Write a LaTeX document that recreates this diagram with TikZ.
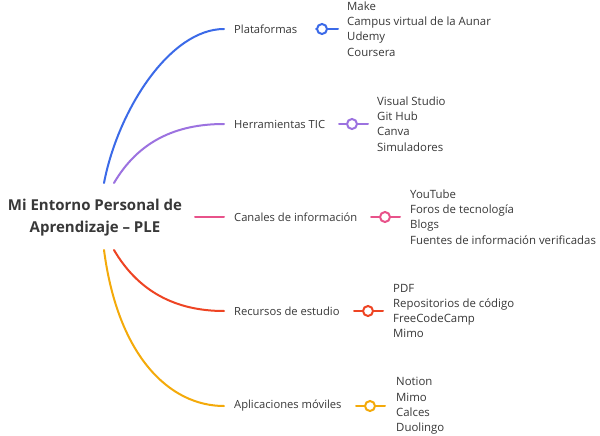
\documentclass[tikz,border=0pt]{standalone}
\usepackage{fontspec}
\setmainfont{Open Sans}
\definecolor{txt}{HTML}{383838}
\definecolor{cblue}{HTML}{3B6AE8}
\definecolor{cpurple}{HTML}{9C72E0}
\definecolor{cpink}{HTML}{E8528A}
\definecolor{cred}{HTML}{EE4423}
\definecolor{cyellow}{HTML}{F4AA0A}
\begin{document}
\begin{tikzpicture}[x=1pt,y=-1pt,
  branch/.style={line width=2pt,line cap=round},
  lbl/.style={anchor=west,inner sep=0pt,text=txt,font=\fontsize{11.2}{13}\selectfont},
  item/.style={anchor=west,inner sep=0pt,text=txt,font=\fontsize{11.4}{15.3}\selectfont,align=left},
  knob/.style={circle,line width=2pt,fill=white,minimum size=10pt,inner sep=0pt},
  root/.style={text=txt,font=\bfseries\fontsize{15}{22}\selectfont,align=center,inner sep=0pt}]
\useasboundingbox (0,0) rectangle (600,436);
\fill[white] (0,0) rectangle (600,436);
\node[root] (R) at (95,218) {Mi Entorno Personal de\\Aprendizaje – PLE};
% branch anchors
\coordinate (s1) at (104,183);
\coordinate (s2) at (114,183);
\coordinate (s3) at (195,217);
\coordinate (s4) at (114,250);
\coordinate (s5) at (104,250);
% labels
\node[lbl] (L1) at (234,29) {Plataformas};
\node[lbl] (L2) at (234,124) {Herramientas TIC};
\node[lbl] (L3) at (234,217) {Canales de información};
\node[lbl] (L4) at (234,311) {Recursos de estudio};
\node[lbl] (L5) at (234,406) {Aplicaciones móviles};
% curves
\draw[branch,cblue] (s1) .. controls (118,110) and (170,29) .. ([xshift=-10pt]L1.west);
\draw[branch,cpurple] (s2) .. controls (138,142) and (175,124) .. ([xshift=-10pt]L2.west);
\draw[branch,cpink] (s3) -- ([xshift=-10pt]L3.west);
\draw[branch,cred] (s4) .. controls (138,291) and (175,311) .. ([xshift=-10pt]L4.west);
\draw[branch,cyellow] (s5) .. controls (118,357) and (170,406) .. ([xshift=-10pt]L5.west);
% knobs
\coordinate (a1) at (316,29); \coordinate (b1) at (338,29);
\coordinate (a2) at (339,124); \coordinate (b2) at (368,124);
\coordinate (a3) at (371,217); \coordinate (b3) at (400,217);
\coordinate (a4) at (354,311); \coordinate (b4) at (383,311);
\coordinate (a5) at (356,406); \coordinate (b5) at (385,406);
\draw[branch,cblue] (a1) -- (b1);
\node[knob,draw=cblue] (k1) at (322,29) {};
\draw[branch,cpurple] (a2) -- (b2);
\node[knob,draw=cpurple] (k2) at (352,124) {};
\draw[branch,cpink] (a3) -- (b3);
\node[knob,draw=cpink] (k3) at (385,217) {};
\draw[branch,cred] (a4) -- (b4);
\node[knob,draw=cred] (k4) at (368,311) {};
\draw[branch,cyellow] (a5) -- (b5);
\node[knob,draw=cyellow] (k5) at (370,406) {};
% items
\node[item] (I1) at (347,29) {Make\\Campus virtual de la Aunar\\Udemy\\Coursera};
\node[item] (I2) at (377,124) {Visual Studio\\Git Hub\\Canva\\Simuladores};
\node[item] (I3) at (410,217) {YouTube\\Foros de tecnología\\Blogs\\Fuentes de información verificadas};
\node[item] (I4) at (393,311) {PDF\\Repositorios de código\\FreeCodeCamp\\Mimo};
\node[item] (I5) at (396,406) {Notion\\Mimo\\Calces\\Duolingo};
\end{tikzpicture}
\end{document}
